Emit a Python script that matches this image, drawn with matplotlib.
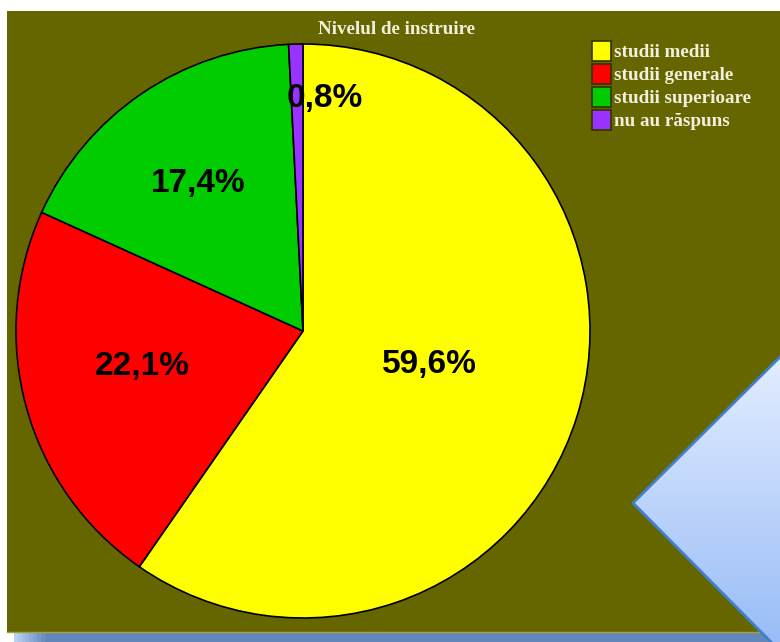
import numpy as np
import matplotlib.pyplot as plt
from matplotlib.patches import Rectangle, Polygon, Patch

# data
labels = ['studii medii', 'studii generale', 'studii superioare', 'nu au răspuns']
values = [59.6, 22.1, 17.4, 0.8]
pct_text = ['59,6%', '22,1%', '17,4%', '0,8%']
colors = ['#ffff00', '#ff0000', '#00cc00', '#9933ff']
title = 'Nivelul de instruire'

W, H = 780, 642
fig = plt.figure(figsize=(W / 100, H / 100), dpi=100)
fig.patch.set_facecolor('white')

# background decor, in pixel coords
bg = fig.add_axes([0, 0, 1, 1])
bg.set_xlim(0, W)
bg.set_ylim(H, 0)
bg.axis('off')

# shadow strip under the panel
strip = np.linspace(0, 1, 200)[None, :]
c0 = np.array([0.72, 0.82, 0.95])
c1 = np.array([0.39, 0.53, 0.73])
w = np.clip(strip / 0.04, 0, 1)[..., None]
strip_img = c0 * (1 - w) + c1 * w
bg.imshow(strip_img, extent=[14, W, H, 633], aspect='auto', zorder=0)

bg.add_patch(Rectangle((7, 11), W - 7, 621, facecolor='#666600', edgecolor='none', zorder=1))
bg.plot([7, W], [632, 632], color='#a8a040', lw=1, zorder=1)

# light blue triangle on the right
tri = [(633, 503), (W, 357), (W, H), (771, H)]
grad = np.linspace(0, 1, 256)[:, None, None]
top = np.array([0.89, 0.93, 1.0])
bot = np.array([0.60, 0.74, 0.97])
img = top * (1 - grad) + bot * grad
im = bg.imshow(img, extent=[633, W, H, 357], aspect='auto', zorder=2)
poly = Polygon(tri, closed=True, facecolor='none', edgecolor='none')
bg.add_patch(poly)
im.set_clip_path(poly)
bg.plot([W, 633, 771], [357, 503, H], color='#3f7fcc', lw=2, zorder=3)
bg.set_xlim(0, W)
bg.set_ylim(H, 0)

# pie
cx, cy, R = 303, 331, 287
ax = fig.add_axes([(cx - R) / W, (H - cy - R) / H, 2 * R / W, 2 * R / H])
ax.axis('off')
wedges, _ = ax.pie(values, colors=colors, startangle=90, counterclock=False,
                   radius=1, wedgeprops=dict(edgecolor='black', linewidth=1.2))
ax.set_xlim(-1, 1)
ax.set_ylim(-1, 1)

dist = [0.46, 0.58, 0.64, 0.82]
shift_x = [0, 0, -0.005, 0.095]
shift_y = [0.021, 0.031, -0.014, -0.010]
for wd, t, d, sx, sy in zip(wedges, pct_text, dist, shift_x, shift_y):
    ang = np.deg2rad((wd.theta1 + wd.theta2) / 2)
    ax.text(d * np.cos(ang) + sx, d * np.sin(ang) + sy, t, ha='center', va='center',
            fontsize=24, fontweight='bold', family='Liberation Sans', color='black')

fig.text(397 / W, 1 - 30 / H, title, ha='center', va='center', fontsize=13.7,
         fontweight='bold', family='Liberation Serif', color='#f2f0dc')

handles = [Patch(facecolor=c, edgecolor='#333300', linewidth=1.2) for c in colors]
leg = fig.legend(handles, labels, loc='upper left', bbox_to_anchor=(592 / W, 1 - 41 / H),
                 frameon=False, prop=dict(family='Liberation Serif', weight='bold', size=13.8),
                 labelcolor='#f2f0dc', handlelength=1.0, handleheight=1.2,
                 handletextpad=0.15, labelspacing=0.14, borderaxespad=0, borderpad=0)

fig.savefig('out.png', dpi=100)
